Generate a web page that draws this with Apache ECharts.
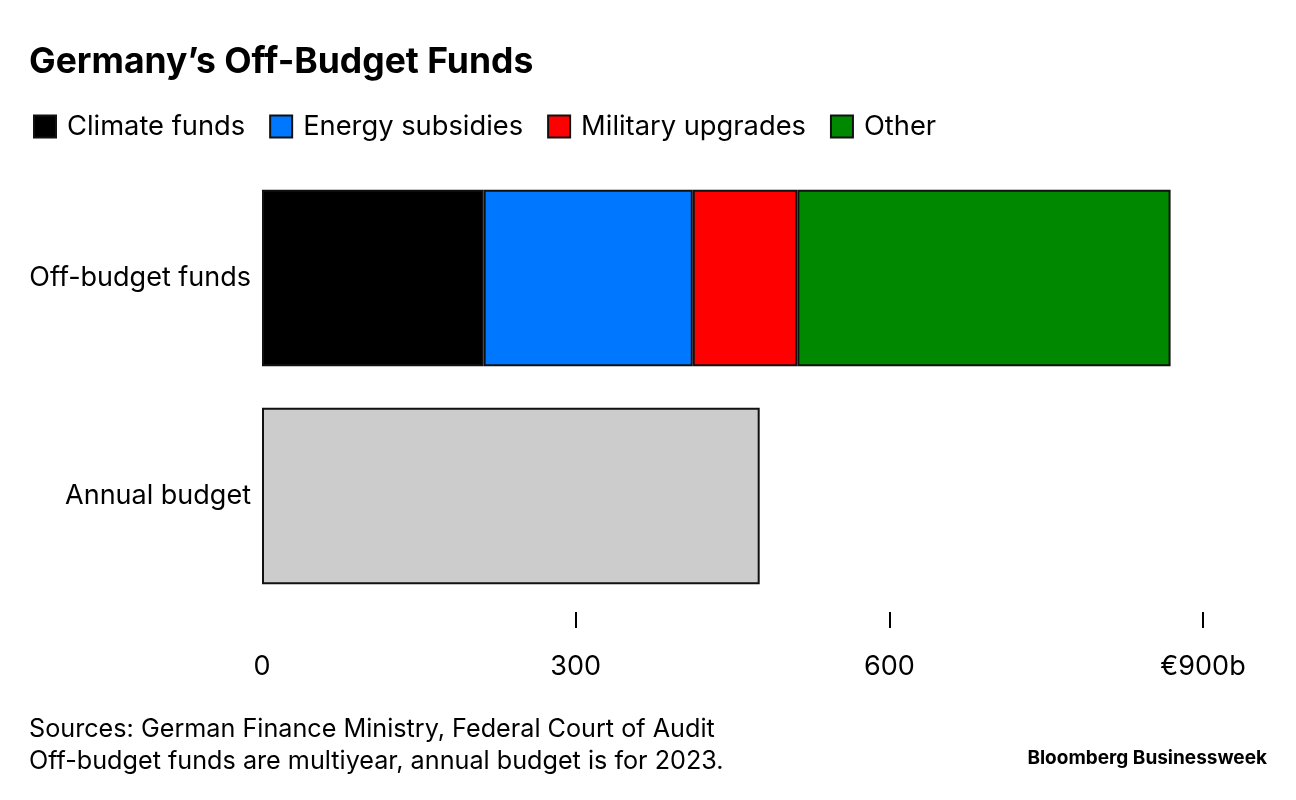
<!DOCTYPE html>
<html><head><meta charset="utf-8">
<script src="https://cdn.jsdelivr.net/npm/echarts@6/dist/echarts.min.js"></script>
<style>html,body{margin:0;padding:0;background:#fff}#c{width:1296px;height:800px}</style>
</head><body><div id="c"></div>
<script>
const categories = ['Off-budget funds', 'Annual budget'];
const climate = [212, null];
const energy = [200, null];
const military = [100, null];
const other = [357, null];
const annual = [null, 476];
const tickValues = [300, 600, 900];
const labelValues = [0, 300, 600, 900];

const font = 'Inter, Roboto, "Liberation Sans", sans-serif';
const chart = echarts.init(document.getElementById('c'));
const mk = (name, data, color) => ({
  name, type: 'bar', stack: 'a', data, barCategoryGap: '19%',
  itemStyle: { color, borderColor: '#111', borderWidth: 2 }, silent: true
});
chart.setOption({
  animation: false,
  title: {
    text: 'Germany\u2019s Off-Budget Funds', left: 29, top: 44, padding: 0,
    textStyle: { fontFamily: font, fontWeight: 'bold', fontSize: 35.5, color: '#000' }
  },
  legend: {
    left: 28, top: 108, itemWidth: 22, itemHeight: 22, itemGap: 24, icon: 'rect',
    data: ['Climate funds', 'Energy subsidies', 'Military upgrades', 'Other'],
    textStyle: { fontFamily: font, fontSize: 27.3, color: '#000', padding: [0, 0, 0, 6] },
    selectedMode: false
  },
  grid: { left: 262, right: 93, top: 169, bottom: 195, containLabel: false },
  xAxis: {
    type: 'value', min: 0, max: 900, interval: 300, offset: 7,
    axisLine: { show: false },
    axisTick: { show: true, length: 16, customValues: tickValues, lineStyle: { color: '#000', width: 2 } },
    axisLabel: { customValues: labelValues, margin: 41, fontFamily: font, fontSize: 27, color: '#000',
      formatter: v => v === 900 ? '\u20ac900b' : String(v) },
    splitLine: { show: false }
  },
  yAxis: {
    type: 'category', data: categories, inverse: true,
    axisLine: { show: false }, axisTick: { show: false },
    axisLabel: { margin: 11, fontFamily: font, fontSize: 27, color: '#000' }
  },
  series: [
    mk('Climate funds', climate, '#000000'),
    mk('Energy subsidies', energy, '#0077ff'),
    mk('Military upgrades', military, '#ff0000'),
    mk('Other', other, '#008800'),
    mk('Annual budget', annual, '#cccccc')
  ],
  graphic: [
    { type: 'text', left: 29, top: 717, style: { text: 'Sources: German Finance Ministry, Federal Court of Audit', fontFamily: font, fontSize: 25.2, fill: '#000' } },
    { type: 'text', left: 29, top: 749, style: { text: 'Off-budget funds are multiyear, annual budget is for 2023.', fontFamily: font, fontSize: 25.2, fill: '#000' } },
    { type: 'text', right: 29, top: 749, style: { text: 'Bloomberg Businessweek', fontFamily: font, fontSize: 19, fontWeight: 'bold', fill: '#000' } }
  ]
});
</script></body></html>
